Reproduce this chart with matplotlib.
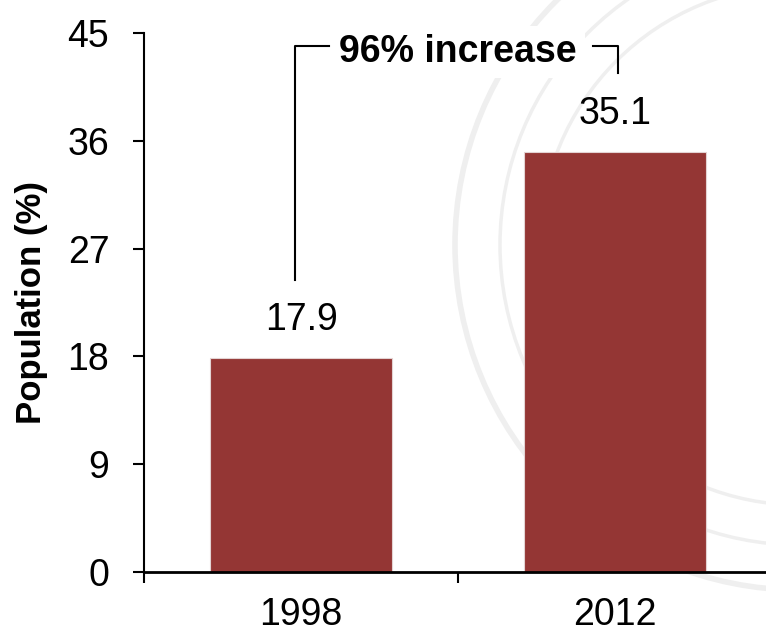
import matplotlib
matplotlib.use("Agg")
import matplotlib.pyplot as plt
from matplotlib.patches import Circle

categories = ["1998", "2012"]
values = [17.9, 35.1]
value_labels = ["17.9", "35.1"]
y_ticks = [0, 9, 18, 27, 36, 45]
annotation = "96% increase"

plt.rcParams['font.family'] = ['Liberation Sans', 'DejaVu Sans']

fig = plt.figure(figsize=(7.66, 6.32), dpi=100)
W, H = 766, 632
left, right, bottom, top = 144, 772, 572, 33

# faint background seal watermark (pixel-coordinate background axes)
bg = fig.add_axes([0, 0, 1, 1], zorder=0)
bg.set_xlim(0, W)
bg.set_ylim(H, 0)
bg.axis("off")
for r, lw in [(345, 4), (300, 2.5), (260, 2.5)]:
    bg.add_patch(Circle((800, 245), r, fill=False, edgecolor="#efefef", linewidth=lw))

ax = fig.add_axes([left / W, (H - bottom) / H, (right - left) / W, (bottom - top) / H], zorder=1)
ax.set_facecolor("none")

x = list(range(len(categories)))
bar_color = "#943634"
ax.bar(x, values, width=0.58, color=bar_color, edgecolor="#e3d3d3", linewidth=0.8, zorder=2)
for xi, v, lab in zip(x, values, value_labels):
    ax.text(xi, v + 1.6, lab, ha="center", va="bottom", fontsize=27)

ax.set_xlim(-0.5, 1.5)
ax.set_ylim(0, 45)
ax.set_yticks(y_ticks)
ax.set_yticklabels([str(t) for t in y_ticks], fontsize=27)
ax.set_xticks([-0.5, 0.5, 1.5])
ax.set_xticklabels(["", "", ""])
ax.set_xticks(x, minor=True)
ax.set_xticklabels(categories, minor=True, fontsize=27)
ax.tick_params(axis="x", which="minor", length=0, pad=18)
ax.tick_params(axis="x", which="major", length=8, width=1.5, direction="out")
ax.tick_params(axis="y", length=8, width=1.5, direction="out", pad=17)
for s in ["top", "right"]:
    ax.spines[s].set_visible(False)
ax.spines["left"].set_linewidth(1.5)
ax.spines["bottom"].set_linewidth(2)
ax.set_ylabel("Population (%)", fontsize=25, fontweight="bold", labelpad=14)

# bracket annotation
bx0, bx1 = -0.02, 1.01
ax.plot([bx0, bx0, 0.09], [24.4, 43.9, 43.9], color="black", lw=1.5, clip_on=False, zorder=3)
ax.plot([0.93, bx1, bx1], [43.9, 43.9, 41.65], color="black", lw=1.5, clip_on=False, zorder=3)
ax.text(0.5, 43.4, annotation, ha="center", va="center", fontsize=27, fontweight="bold", zorder=4,
        bbox=dict(facecolor="white", edgecolor="none", pad=6))

fig.savefig("out.png", dpi=100)
